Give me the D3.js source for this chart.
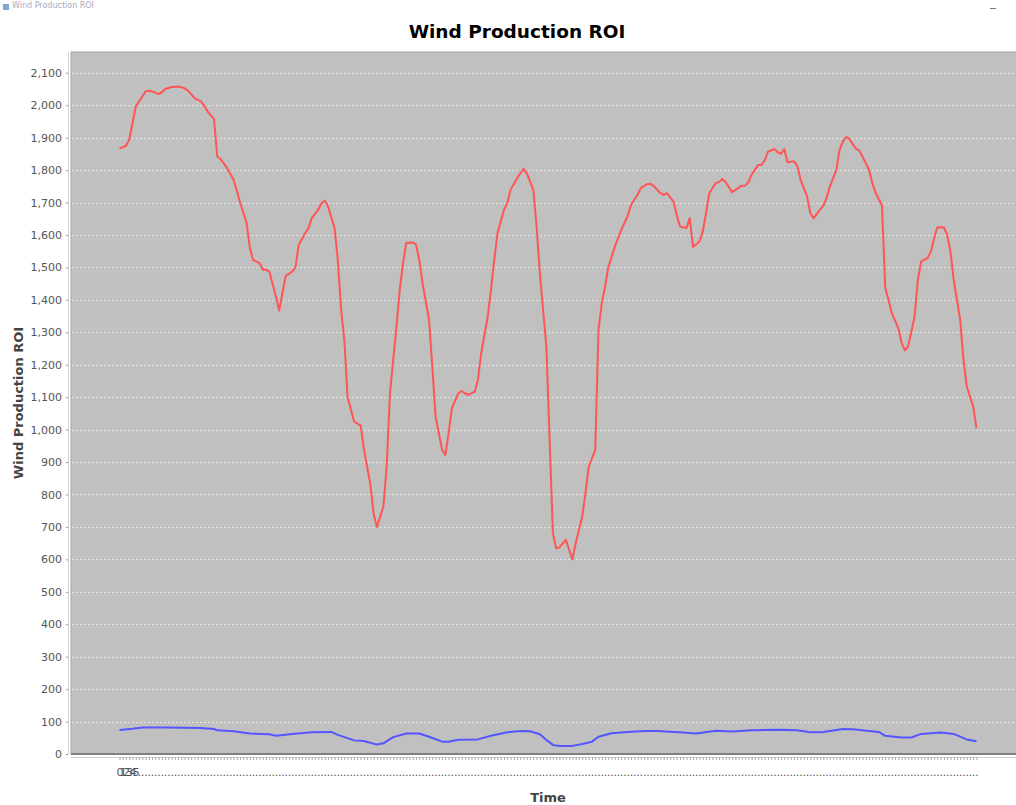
<!DOCTYPE html>
<html>
<head>
<meta charset="utf-8">
<script src="https://cdn.jsdelivr.net/npm/d3@7"></script>
<style>
body { margin: 0; background: #fff; }
text { font-family: "DejaVu Sans", sans-serif; }
</style>
</head>
<body>
<div id="chart"></div>
<script>
// chart data
var title = "Wind Production ROI";
var yLabel = "Wind Production ROI";
var xLabel = "Time";

var nHours = 264;
var hours = d3.range(nHours);          // category keys, one per hour
var shownLabels = 6;                   // the first few labels squeeze in, the rest get cut to "."
var yTicks = [0, 100, 200, 300, 400, 500, 600, 700, 800, 900, 1000,
              1100, 1200, 1300, 1400, 1500, 1600, 1700, 1800, 1900, 2000, 2100];
var yMax = 2164;

// [hour, value]
var redSeries = [
  [0,1866],[2,1875],[3,1895],[4,1945],[5,1996],[7,2027],[8,2042],[9,2045],[11,2039],
  [12,2034],[13,2040],[14,2050],[16,2056],[17,2057],[18,2058],[20,2052],[21,2045],
  [22,2034],[23,2022],[25,2012],[26,1998],[27,1981],[29,1957],[30,1842],[31,1834],
  [32,1821],[33,1806],[35,1770],[36,1737],[37,1700],[39,1637],[40,1560],[41,1523],
  [43,1513],[44,1493],[45,1493],[46,1486],[48,1410],[49,1367],[50,1421],[51,1474],
  [53,1487],[54,1501],[55,1570],[57,1606],[58,1621],[59,1652],[61,1678],[62,1698],
  [63,1706],[64,1688],[66,1621],[67,1523],[68,1369],[69,1277],[70,1100],[72,1025],
  [74,1012],[75,940],[77,830],[78,740],[79,700],[81,763],[82,886],[83,1112],[85,1318],
  [86,1431],[87,1513],[88,1575],[90,1577],[91,1570],[92,1523],[93,1452],[95,1338],
  [96,1194],[97,1040],[99,937],[100,922],[101,989],[102,1066],[104,1112],[105,1119],
  [106,1112],[107,1107],[109,1117],[110,1153],[111,1236],[113,1348],[114,1431],
  [115,1523],[116,1606],[118,1678],[119,1698],[120,1739],[122,1775],[123,1790],
  [124,1804],[125,1790],[127,1739],[128,1626],[129,1482],[131,1256],[132,968],
  [133,681],[134,634],[135,637],[137,660],[138,629],[139,600],[140,650],[142,732],
  [143,804],[144,886],[146,937],[147,1308],[148,1390],[149,1441],[150,1500],[152,1564],
  [153,1590],[154,1616],[156,1660],[157,1693],[159,1724],[160,1745],[162,1757],
  [163,1758],[164,1750],[166,1729],[167,1724],[168,1729],[170,1703],[171,1662],
  [172,1626],[174,1621],[175,1652],[176,1563],[178,1580],[179,1611],[180,1667],
  [181,1729],[183,1760],[184,1763],[185,1773],[186,1763],[188,1732],[189,1739],
  [191,1752],[192,1752],[193,1762],[194,1786],[196,1816],[197,1816],[198,1830],
  [199,1857],[201,1865],[202,1855],[203,1850],[204,1865],[205,1824],[207,1827],
  [208,1813],[209,1770],[211,1719],[212,1667],[213,1652],[215,1678],[216,1690],
  [217,1714],[218,1750],[220,1801],[221,1863],[222,1888],[223,1902],[224,1896],
  [225,1880],[226,1866],[227,1860],[228,1842],[230,1801],[231,1760],[232,1731],
  [234,1690],[235,1436],[236,1400],[237,1359],[239,1313],[240,1268],[241,1244],
  [242,1256],[244,1348],[245,1462],[246,1518],[248,1529],[249,1549],[250,1590],
  [251,1624],[253,1623],[254,1600],[255,1549],[256,1462],[258,1338],[259,1215],
  [260,1133],[262,1071],[263,1004]
];

var blueSeries = [
  [0,74],[4,78],[7,82],[14,82],[25,80],[29,77],[30,73],[35,70],[40,63],[46,61],
  [48,56],[53,62],[59,67],[65,68],[67,59],[72,42],[75,40],[79,29],[81,33],[84,52],
  [88,63],[92,63],[95,53],[99,38],[101,38],[104,44],[110,45],[114,56],[119,67],
  [123,71],[126,70],[129,61],[131,43],[133,28],[135,25],[139,25],[142,31],[145,38],
  [147,53],[151,64],[156,68],[161,71],[165,71],[173,66],[177,63],[183,72],[188,69],
  [194,73],[203,75],[208,73],[212,67],[216,68],[222,77],[225,76],[233,68],[235,56],
  [240,51],[243,51],[246,62],[252,66],[256,62],[260,45],[263,39]
];

var seriesColors = ["#ff5555", "#5555ff"];

// layout
var width = 1016;
var height = 805;
var plotLeft = 71, plotRight = 1025, plotTop = 52, plotBottom = 754;
var catMargin = 48.5;

var svg = d3.select("#chart")
  .append("svg")
  .attr("width", width)
  .attr("height", height)
  .style("display", "block");

svg.append("rect")
  .attr("width", width)
  .attr("height", height)
  .attr("fill", "#fff");

// leftover of the window title bar at the very top
svg.append("rect")
  .attr("x", 3).attr("y", 4).attr("width", 6).attr("height", 6)
  .attr("fill", "#7ea6d8");
svg.append("text")
  .attr("x", 12).attr("y", 8)
  .attr("font-size", 8)
  .attr("fill", "#8c8ca8")
  .attr("opacity", 0.75)
  .text(title);
svg.append("line")
  .attr("x1", 990).attr("x2", 996).attr("y1", 8.5).attr("y2", 8.5)
  .attr("stroke", "#777").attr("stroke-width", 1);

var x = d3.scalePoint()
  .domain(hours)
  .range([plotLeft + catMargin, plotRight - catMargin]);

var y = d3.scaleLinear()
  .domain([0, yMax])
  .range([plotBottom, plotTop]);

// plot background
svg.append("rect")
  .attr("x", plotLeft)
  .attr("y", plotTop)
  .attr("width", plotRight - plotLeft)
  .attr("height", plotBottom - plotTop)
  .attr("fill", "#c0c0c0")
  .attr("stroke", "#a8a8a8")
  .attr("stroke-width", 1);

// grid lines
svg.append("g")
  .selectAll("line")
  .data(yTicks.filter(function(d) { return d > 0; }))
  .enter()
  .append("line")
  .attr("x1", plotLeft + 1)
  .attr("x2", plotRight)
  .attr("y1", function(d) { return Math.round(y(d)) + 0.5; })
  .attr("y2", function(d) { return Math.round(y(d)) + 0.5; })
  .attr("stroke", "#e4e4e4")
  .attr("stroke-width", 1)
  .attr("stroke-dasharray", "2,2");

// bottom edge of the plot
svg.append("line")
  .attr("x1", plotLeft).attr("x2", plotRight)
  .attr("y1", plotBottom).attr("y2", plotBottom)
  .attr("stroke", "#808080")
  .attr("stroke-width", 2);

// series
svg.append("clipPath").attr("id", "clip")
  .append("rect")
  .attr("x", plotLeft).attr("y", plotTop)
  .attr("width", plotRight - plotLeft).attr("height", plotBottom - plotTop);

var line = d3.line()
  .x(function(d) { return x(d[0]); })
  .y(function(d) { return y(d[1]); });

svg.append("g")
  .attr("clip-path", "url(#clip)")
  .selectAll("path")
  .data([redSeries, blueSeries])
  .enter()
  .append("path")
  .attr("d", line)
  .attr("fill", "none")
  .attr("stroke", function(d, i) { return seriesColors[i]; })
  .attr("stroke-width", 2)
  .attr("stroke-linejoin", "round");

// y axis
var yAxis = svg.append("g")
  .attr("transform", "translate(" + (plotLeft - 3) + ",0)")
  .call(d3.axisLeft(y)
    .tickValues(yTicks)
    .tickFormat(d3.format(","))
    .tickSize(2)
    .tickPadding(4));
yAxis.select(".domain")
  .attr("d", "M0.5," + plotTop + "V" + plotBottom)
  .attr("stroke", "#d4d4d4");
yAxis.selectAll(".tick line").attr("stroke", "#999");
yAxis.selectAll(".tick text")
  .attr("font-size", 11)
  .attr("font-family", "DejaVu Sans, sans-serif")
  .attr("fill", "#555");

// x axis (category)
var xAxis = svg.append("g")
  .attr("transform", "translate(0," + (plotBottom + 3) + ")")
  .call(d3.axisBottom(x)
    .tickSize(3)
    .tickPadding(8)
    .tickFormat(function(d) { return d < shownLabels ? String(d) : "."; }));
xAxis.select(".domain")
  .attr("d", "M" + plotLeft + ",0.5H" + plotRight)
  .attr("stroke", "#cfcfcf");
xAxis.selectAll(".tick line").attr("stroke", "#aaa");
xAxis.selectAll(".tick text")
  .attr("font-size", 11)
  .attr("font-family", "DejaVu Sans, sans-serif")
  .attr("fill", "#555");

// titles
svg.append("text")
  .attr("x", 517)
  .attr("y", 38)
  .attr("text-anchor", "middle")
  .attr("font-size", 18.5)
  .attr("font-weight", "bold")
  .attr("fill", "#000")
  .text(title);

svg.append("text")
  .attr("transform", "translate(23," + ((plotTop + plotBottom) / 2) + ") rotate(-90)")
  .attr("text-anchor", "middle")
  .attr("font-size", 13)
  .attr("font-weight", "bold")
  .attr("fill", "#444")
  .text(yLabel);

svg.append("text")
  .attr("x", (plotLeft + plotRight) / 2)
  .attr("y", 802)
  .attr("text-anchor", "middle")
  .attr("font-size", 13)
  .attr("font-weight", "bold")
  .attr("fill", "#444")
  .text(xLabel);
</script>
</body>
</html>
